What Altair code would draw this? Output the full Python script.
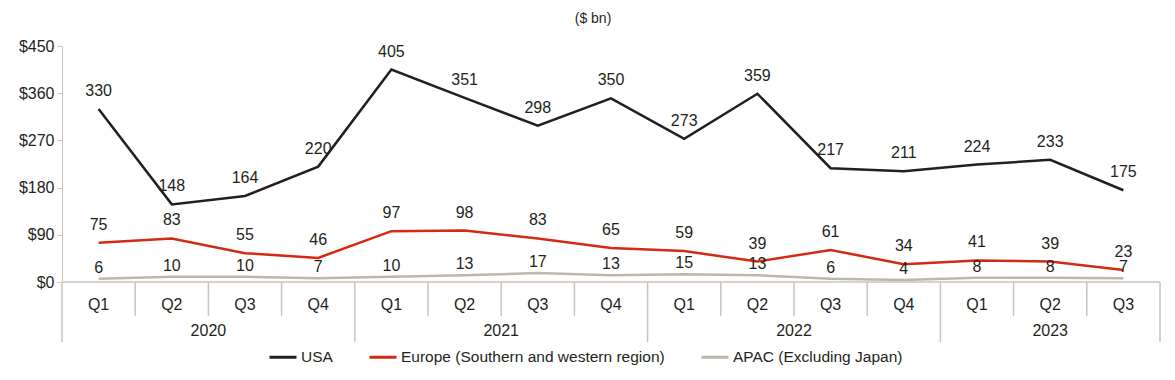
import altair as alt
import pandas as pd

quarters = ["Q1", "Q2", "Q3", "Q4", "Q1", "Q2", "Q3", "Q4", "Q1", "Q2", "Q3", "Q4", "Q1", "Q2", "Q3"]
years = ["2020"] * 4 + ["2021"] * 4 + ["2022"] * 4 + ["2023"] * 3
usa = [330, 148, 164, 220, 405, 351, 298, 350, 273, 359, 217, 211, 224, 233, 175]
europe = [75, 83, 55, 46, 97, 98, 83, 65, 59, 39, 61, 34, 41, 39, 23]
apac = [6, 10, 10, 7, 10, 13, 17, 13, 15, 13, 6, 4, 8, 8, 7]
series_names = ["USA", "Europe (Southern and western region)", "APAC (Excluding Japan)"]
series_colors = ["#231f20", "#d42a12", "#bdb6aa"]
y_ticks = [0, 90, 180, 270, 360, 450]

FONT = "Liberation Sans"
TXT = "#231f20"
AXC = "#cbc4b9"
W, H = 1098, 236

rows = []
for name, vals in zip(series_names, [usa, europe, apac]):
    for i, v in enumerate(vals):
        rows.append({"series": name, "pos": i + 0.5, "value": v})
df = pd.DataFrame(rows)

qdf = pd.DataFrame({"pos": [i + 0.5 for i in range(len(quarters))], "label": quarters, "year": years})
n = len(quarters)
short_b, long_b = [], []
for k in range(n + 1):
    if k == 0 or k == n or years[k] != years[k - 1]:
        long_b.append(k)
    else:
        short_b.append(k)
ydf = qdf.groupby("year", as_index=False)["pos"].mean()

xscale = alt.Scale(domain=[0, n], nice=False, zero=False)
yscale = alt.Scale(domain=[0, 450], nice=False)
X = alt.X("pos:Q", scale=xscale, axis=None)

lines = alt.Chart(df).mark_line(strokeWidth=2.5).encode(
    x=X,
    y=alt.Y("value:Q", scale=yscale, axis=alt.Axis(
        values=y_ticks, labelExpr="'$' + datum.value", grid=False, title=None,
        domainColor=AXC, tickColor=AXC, tickSize=5, labelFontSize=16,
        labelColor=TXT, labelFont=FONT, labelPadding=3)),
    color=alt.Color("series:N", scale=alt.Scale(domain=series_names, range=series_colors),
                    legend=alt.Legend(orient="none", legendX=206, legendY=296, direction="horizontal",
                                      title=None, symbolType="stroke", symbolStrokeWidth=3,
                                      symbolSize=729, labelFontSize=15.5, labelFont=FONT,
                                      labelColor=TXT, columnPadding=30, labelOffset=3,
                                      labelLimit=500)),
    detail="series:N",
)

labels_main = alt.Chart(df).transform_filter(
    alt.FieldOneOfPredicate(field="series", oneOf=series_names[:2])
).mark_text(dy=-18, fontSize=16, font=FONT, color=TXT).encode(
    x=X, y=alt.Y("value:Q", scale=yscale), text="value:Q")

labels_apac = alt.Chart(df).transform_filter(
    alt.FieldEqualPredicate(field="series", equal=series_names[2])
).mark_text(dy=-11, fontSize=16, font=FONT, color=TXT).encode(
    x=X, y=alt.Y("value:Q", scale=yscale), text="value:Q")

base_line = alt.Chart(pd.DataFrame({"a": [0]})).mark_rule(color=AXC, strokeWidth=1.5).encode(
    x=alt.value(0), x2=alt.value(W), y=alt.value(H))

short_sep = alt.Chart(pd.DataFrame({"pos": short_b})).mark_rule(color=AXC, strokeWidth=1.5).encode(
    x=X, y=alt.value(H), y2=alt.value(H + 34))
long_sep = alt.Chart(pd.DataFrame({"pos": long_b})).mark_rule(color=AXC, strokeWidth=1.5).encode(
    x=X, y=alt.value(H), y2=alt.value(H + 60))

qlabels = alt.Chart(qdf).mark_text(fontSize=16, font=FONT, color=TXT).encode(
    x=X, y=alt.value(H + 23), text="label:N")
ylabels = alt.Chart(ydf).mark_text(fontSize=16, font=FONT, color=TXT).encode(
    x=X, y=alt.value(H + 49), text="year:N")

chart = alt.layer(base_line, short_sep, long_sep, qlabels, ylabels, lines, labels_main, labels_apac).properties(
    width=W, height=H,
    title=alt.TitleParams("($ bn)", fontSize=14, font=FONT, fontWeight="normal", color=TXT,
                          anchor="middle", offset=12, dx=-18),
    autosize=alt.AutoSizeParams(type="none"),
    padding={"left": 54, "top": 38, "right": 7, "bottom": 85},
).configure_view(stroke=None)

chart.save("out.html", embed_options={"renderer": "svg", "actions": False})
